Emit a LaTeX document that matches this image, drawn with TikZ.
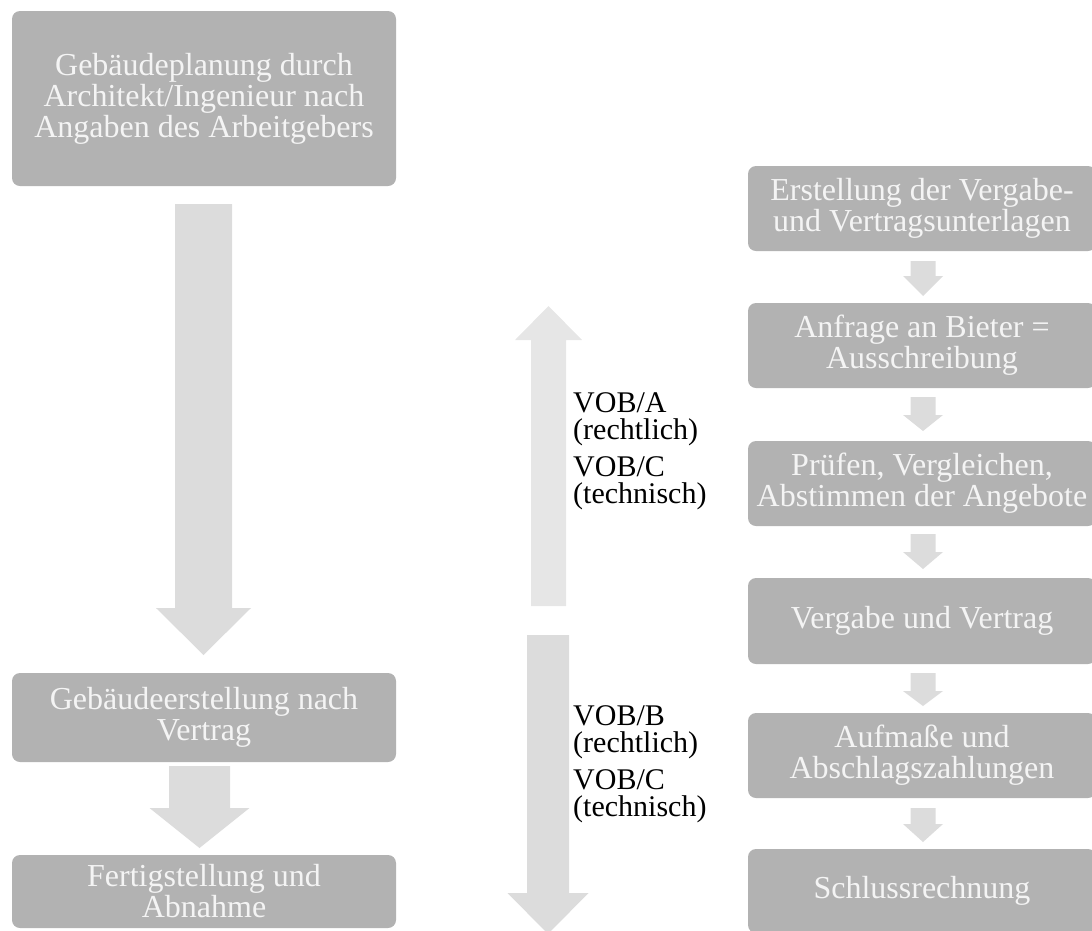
\documentclass[tikz,border=0pt]{standalone}
\usepackage{fontspec}
\setmainfont{Liberation Serif}
\definecolor{boxgray}{HTML}{B2B2B2}
\definecolor{boxtext}{HTML}{F4F4F4}
\definecolor{flowarrow}{HTML}{DCDCDC}
\definecolor{uparrow}{HTML}{E6E6E6}
% block arrow: centre x, shaft start, head base, tip, shaft half width, head half width, colour
\newcommand\blockarrow[7]{%
  \fill[#7] (#1-#5,#2) -- (#1+#5,#2) -- (#1+#5,#3) -- (#1+#6,#3)
    -- (#1,#4) -- (#1-#6,#3) -- (#1-#5,#3) -- cycle;}
% fixed line heights for the two-line VOB labels
\newcommand\topline{\rule{0pt}{21pt}}
\newcommand\bottomline{\rule[-6pt]{0pt}{6pt}}
\begin{document}
\begin{tikzpicture}[x=1pt,y=-1pt,
  stage/.style={fill=boxgray, rounded corners=8pt, text=boxtext, align=center,
    inner sep=0pt, font=\fontsize{32}{31}\selectfont},
  voblabel/.style={anchor=west, inner sep=0pt, align=left,
    font=\fontsize{30}{27}\selectfont}]
\useasboundingbox (0,0) rectangle (1092,930);
\clip (0,0) rectangle (1092,930);

% left column
\node[stage, minimum width=384pt, minimum height=175pt] (b1) at (204,98.5)
  {Gebäudeplanung durch\\Architekt/Ingenieur nach\\Angaben des Arbeitgebers};
\node[stage, minimum width=384pt, minimum height=89pt] (b2) at (204,717.5)
  {Gebäudeerstellung nach\\Vertrag};
\node[stage, minimum width=384pt, minimum height=73pt] (b3) at (204,891.5)
  {Fertigstellung und\\Abnahme};
\blockarrow{203.5}{204}{608}{655}{28.5}{47.5}{flowarrow}
\blockarrow{199.5}{766}{808}{848}{30.5}{50}{flowarrow}

% middle: VOB parts
\blockarrow{548.5}{606}{340}{306}{17.5}{33.5}{uparrow}
\blockarrow{548}{635}{893}{934}{21}{40.5}{flowarrow}
\node[voblabel] (va1) at (573,419) {\topline VOB/A\\(rechtlich)\bottomline};
\node[voblabel] (va2) at (573,483) {\topline VOB/C\\(technisch)\bottomline};
\node[voblabel] (vb1) at (573,732) {\topline VOB/B\\(rechtlich)\bottomline};
\node[voblabel] (vb2) at (573,796) {\topline VOB/C\\(technisch)\bottomline};

% right column
\node[stage, minimum width=348pt, minimum height=85pt] (r1) at (922,208.5)
  {Erstellung der Vergabe-\\und Vertragsunterlagen};
\node[stage, minimum width=348pt, minimum height=85pt] (r2) at (922,345.5)
  {Anfrage an Bieter =\\Ausschreibung};
\node[stage, minimum width=348pt, minimum height=85pt] (r3) at (922,483.5)
  {Prüfen, Vergleichen,\\Abstimmen der Angebote};
\node[stage, minimum width=348pt, minimum height=86pt] (r4) at (922,621)
  {Vergabe und Vertrag};
\node[stage, minimum width=348pt, minimum height=85pt] (r5) at (922,755.5)
  {Aufmaße und\\Abschlagszahlungen};
\node[stage, minimum width=348pt, minimum height=84pt] (r6) at (922,891)
  {Schlussrechnung};
\blockarrow{923}{261}{276}{296}{12.5}{20}{flowarrow}
\blockarrow{923}{397}{415}{431}{12.5}{20}{flowarrow}
\blockarrow{923}{534}{552}{569}{12.5}{20}{flowarrow}
\blockarrow{923}{673}{691}{706}{12.5}{20}{flowarrow}
\blockarrow{923}{808}{824}{842}{12.5}{20}{flowarrow}
\end{tikzpicture}
\end{document}
